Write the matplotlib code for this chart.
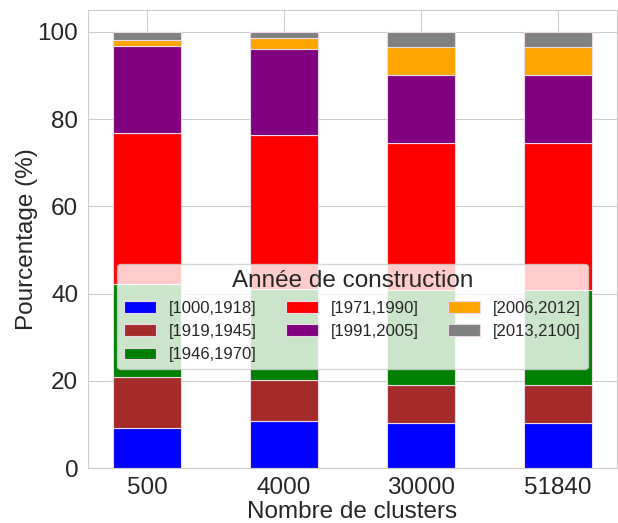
import numpy as np
import matplotlib
matplotlib.use("Agg")
import matplotlib.pyplot as plt
import seaborn as sns

sns.set_style("whitegrid")
plt.rcParams['font.family'] = ['Liberation Sans', 'DejaVu Sans']

clusters = ['500', '4000', '30000', '51840']
periods = ['[1000,1918]', '[1919,1945]', '[1946,1970]', '[1971,1990]',
           '[1991,2005]', '[2006,2012]', '[2013,2100]']
colors = ['blue', 'brown', 'green', 'red', 'purple', 'orange', 'gray']

# pourcentages par tranche (une liste par tranche, une valeur par nb de clusters)
p_1000_1918 = [9.3, 10.8, 10.3, 10.3]
p_1919_1945 = [11.6, 9.4, 8.8, 8.8]
p_1946_1970 = [21.2, 20.9, 21.8, 21.8]
p_1971_1990 = [34.8, 35.3, 33.6, 33.6]
p_1991_2005 = [19.9, 19.6, 15.7, 15.7]
p_2006_2012 = [1.4, 2.6, 6.2, 6.2]
p_2013_2100 = [1.8, 1.4, 3.6, 3.6]

series = [p_1000_1918, p_1919_1945, p_1946_1970, p_1971_1990,
          p_1991_2005, p_2006_2012, p_2013_2100]

fig = plt.figure(figsize=(6.18, 5.23), dpi=100)
ax = fig.add_axes([0.1424, 0.105, 0.8556, 0.876])

x = np.arange(len(clusters))
bottom = np.zeros(len(clusters))
for lab, col, vals in zip(periods, colors, series):
    ax.bar(x, vals, width=0.5, bottom=bottom, color=col, label=lab,
           edgecolor='#e8d8e8', linewidth=0.8)
    bottom += np.array(vals)

ax.set_xticks(x)
ax.set_xticklabels(clusters, fontsize=17.5)
ax.set_xlim(-0.43, 3.43)
ax.set_ylim(0, 105)
ax.set_yticks([0, 20, 40, 60, 80, 100])
ax.tick_params(axis='y', labelsize=17.5)
ax.tick_params(axis='x', pad=3)
ax.set_xlabel('Nombre de clusters', fontsize=17.5, labelpad=1)
ax.set_ylabel('Pourcentage (%)', fontsize=17.5, labelpad=0)
ax.xaxis.grid(True)

leg = ax.legend(title='Année de construction', ncol=3, fontsize=12,
                title_fontsize=17.5, loc='lower center',
                bbox_to_anchor=(0.5, 0.198), columnspacing=1.75,
                handlelength=1.9, labelspacing=0.5, framealpha=0.8)

fig.savefig('out.png', dpi=100)
